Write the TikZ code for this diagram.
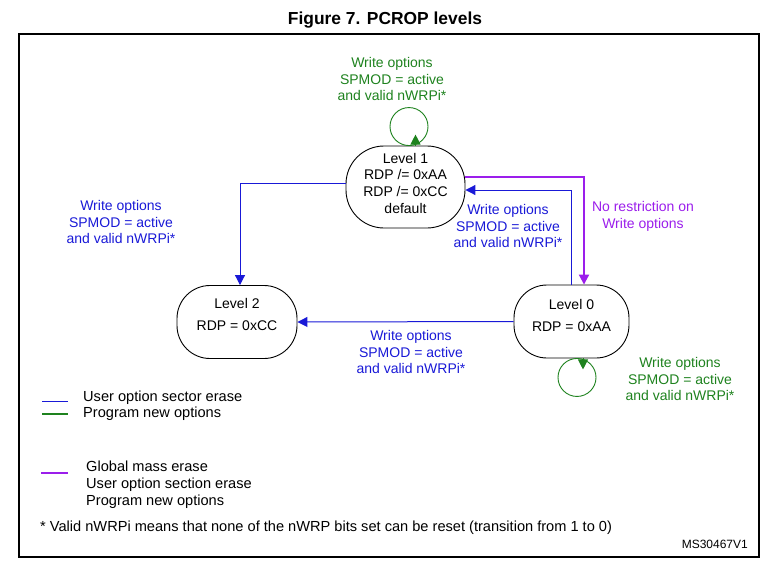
\documentclass[tikz,border=0pt]{standalone}
\usepackage{fontspec}
\setmainfont{Liberation Sans}
\usetikzlibrary{arrows.meta,calc}
\definecolor{cblue}{RGB}{25,25,215}
\definecolor{cgreen}{RGB}{30,130,30}
\definecolor{cpurple}{RGB}{155,30,235}
\begin{document}
\begin{tikzpicture}[x=1pt,y=-1pt,
  every node/.style={font=\fontsize{14}{16.7}\selectfont, inner sep=0pt, align=center},
  lvl/.style={draw, line width=0.9pt, rounded corners=33pt, minimum width=118pt, minimum height=73pt},
  tip/.style={-{Triangle[length=10pt,width=10pt]}},
  bluecon/.style={draw=cblue, line width=1pt, tip},
  purplecon/.style={draw=cpurple, line width=2pt, tip},
  loopline/.style={draw=cgreen, line width=0.9pt},
  bluetxt/.style={text=cblue},
  greentxt/.style={text=cgreen},
  purpletxt/.style={text=cpurple},
  legtxt/.style={anchor=west, align=left, font=\fontsize{14.6}{17}\selectfont}]
\useasboundingbox (0,0) rectangle (772,568);
% title and frame
\node[font=\fontsize{17.4}{20}\selectfont\bfseries] (title) at (385,20) {Figure 7. PCROP levels};
\draw[line width=1.2pt] (19,34) rectangle (759,557);
% level nodes
\node[lvl, minimum width=119pt, minimum height=82pt, rounded corners=38pt] (l1) at (405.5,187) {};
\node[lvl, minimum width=120pt, minimum height=73pt] (l2) at (237,322) {};
\node[lvl, minimum width=115pt, minimum height=73pt] (l0) at (571.5,321.5) {};
\node (l1t) at (405.5,183.3) {Level 1\\RDP /= 0xAA\\RDP /= 0xCC\\default};
\node (l2t) at (237,314.5) {Level 2\\[6pt]RDP = 0xCC};
\node (l0t) at (571.5,315.5) {Level 0\\[6pt]RDP = 0xAA};
% connectors
\draw[bluecon] ([yshift=4pt]l1.west) -| ([xshift=3pt]l2.north);
\draw[bluecon] (l0.west) -- (l2.east);
\draw[bluecon] (l0.north) |- ([yshift=-3pt]l1.east);
\draw[purplecon] ([yshift=10pt]l1.east) -| ([xshift=12.5pt]l0.north);
% self loops
\draw[loopline] ($(l1.north)+(3.5,-19)$) circle (19pt);
\draw[loopline, tip, draw=cgreen, fill=cgreen] ($(l1.north)+(10,0)$) -- ++(0,-11);
\draw[loopline] ($(l0.south)+(5.5,19)$) circle (19pt);
\draw[loopline, tip, draw=cgreen, fill=cgreen] ($(l0.south)+(11.5,0)$) -- ++(0,11);
% labels
\node[greentxt] (lab1) at (392,79) {Write options\\SPMOD = active\\and valid nWRPi*};
\node[bluetxt] (lab2) at (121,222) {Write options\\SPMOD = active\\and valid nWRPi*};
\node[bluetxt] (lab3) at (508,226) {Write options\\SPMOD = active\\and valid nWRPi*};
\node[purpletxt] (lab4) at (643,216.5) {No restriction on\\Write options};
\node[bluetxt] (lab5) at (411,352) {Write options\\SPMOD = active\\and valid nWRPi*};
\node[greentxt] (lab6) at (680,379) {Write options\\SPMOD = active\\and valid nWRPi*};
% legend
\coordinate (lb1) at (42,401); \coordinate (lb2) at (68,401);
\draw[cblue, line width=0.9pt] (lb1) -- (lb2);
\coordinate (lg1) at (42,414); \coordinate (lg2) at (68,414);
\draw[cgreen, line width=1.3pt] (lg1) -- (lg2);
\coordinate (lp1) at (41,473); \coordinate (lp2) at (68,473);
\draw[cpurple, line width=2pt] (lp1) -- (lp2);
\node[legtxt] (leg1) at (83,398) {User option sector erase};
\node[legtxt] (leg2) at (83,414) {Program new options};
\node[legtxt] (leg3) at (86,485) {Global mass erase\\User option section erase\\Program new options};
\node[legtxt] (foot) at (40,528) {* Valid nWRPi means that none of the nWRP bits set can be reset (transition from 1 to 0)};
\node[anchor=east, font=\fontsize{12}{14}\selectfont] (ms) at (748,544) {MS30467V1};
\end{tikzpicture}
\end{document}
